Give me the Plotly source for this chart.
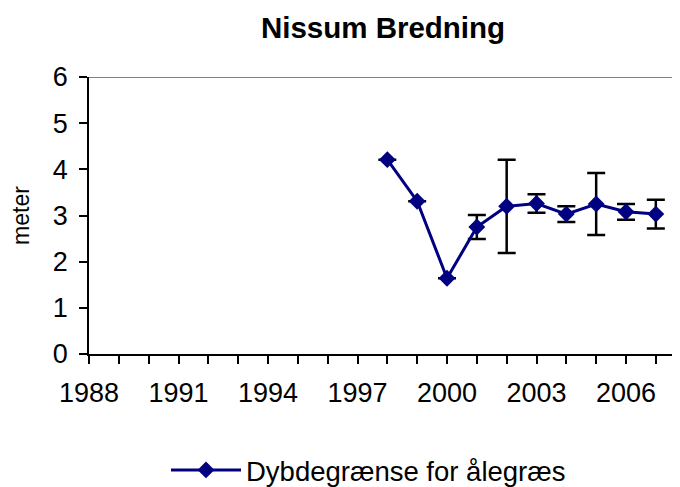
import plotly.graph_objects as go

# Data
years = [1998, 1999, 2000, 2001, 2002, 2003, 2004, 2005, 2006, 2007]
depth = [4.21, 3.31, 1.64, 2.75, 3.20, 3.26, 3.03, 3.25, 3.08, 3.03]
err = [0, 0, 0, 0.26, 1.01, 0.20, 0.17, 0.67, 0.17, 0.31]

tick_years = [1988, 1991, 1994, 1997, 2000, 2003, 2006]
tick_labels = ["1988", "1991", "1994", "1997", "2000", "2003", "2006"]
y_ticks = [0, 1, 2, 3, 4, 5, 6]

series_name = "Dybdegrænse for ålegræs"
title_text = "Nissum Bredning"
y_title = "meter"

FONT = "Liberation Sans, Arial, sans-serif"
W, H = 672, 479

fig = go.Figure()
fig.add_trace(go.Scatter(
    x=years, y=depth, name=series_name, mode="lines+markers",
    line=dict(color="#000080", width=3),
    marker=dict(symbol="diamond", size=13, color="#000080"),
    error_y=dict(type="data", array=err, visible=True,
                 color="black", thickness=2.5, width=9),
))

fig.update_layout(
    width=W, height=H,
    margin=dict(l=81, r=0, t=69, b=H - 346, autoexpand=False),
    paper_bgcolor="white", plot_bgcolor="white",
    font=dict(family=FONT, size=27, color="black"),
    title=dict(text="<b>" + title_text + "</b>", xref="container", yref="container",
               x=375 / W, xanchor="center", y=1 - 20 / H, yanchor="middle",
               font=dict(size=29.5, family=FONT)),
    showlegend=True,
    legend=dict(orientation="h", xref="container", yref="container",
                x=158 / W, xanchor="left", y=1 - 462 / H, yanchor="middle",
                itemwidth=70,
                font=dict(size=27.5), bgcolor="rgba(0,0,0,0)"),
    xaxis=dict(range=[1988, 2007.81], tickvals=tick_years, ticktext=tick_labels,
               automargin=False, ticklabelstandoff=6,
               showgrid=False, zeroline=False, showline=True, linecolor="black",
               linewidth=1.5, ticks="outside", ticklen=8, tickwidth=1.5, tickcolor="black",
               minor=dict(dtick=1, tick0=1988, ticks="outside", ticklen=8, tickwidth=1.5,
                          tickcolor="black", showgrid=False),
               tickfont=dict(size=27)),
    yaxis=dict(range=[0, 6], tickvals=y_ticks, showgrid=False, zeroline=False,
               automargin=False, ticklabelstandoff=6,
               showline=True, linecolor="black", linewidth=1.5, ticks="outside",
               ticklen=8, tickwidth=1.5, tickcolor="black", tickfont=dict(size=27),
               title=dict(text=y_title, font=dict(size=23), standoff=25)),
    shapes=[dict(type="line", xref="paper", yref="y", x0=0, x1=1, y0=6, y1=6,
                 line=dict(color="#808080", width=2))],
)

fig.write_html("out.html")
